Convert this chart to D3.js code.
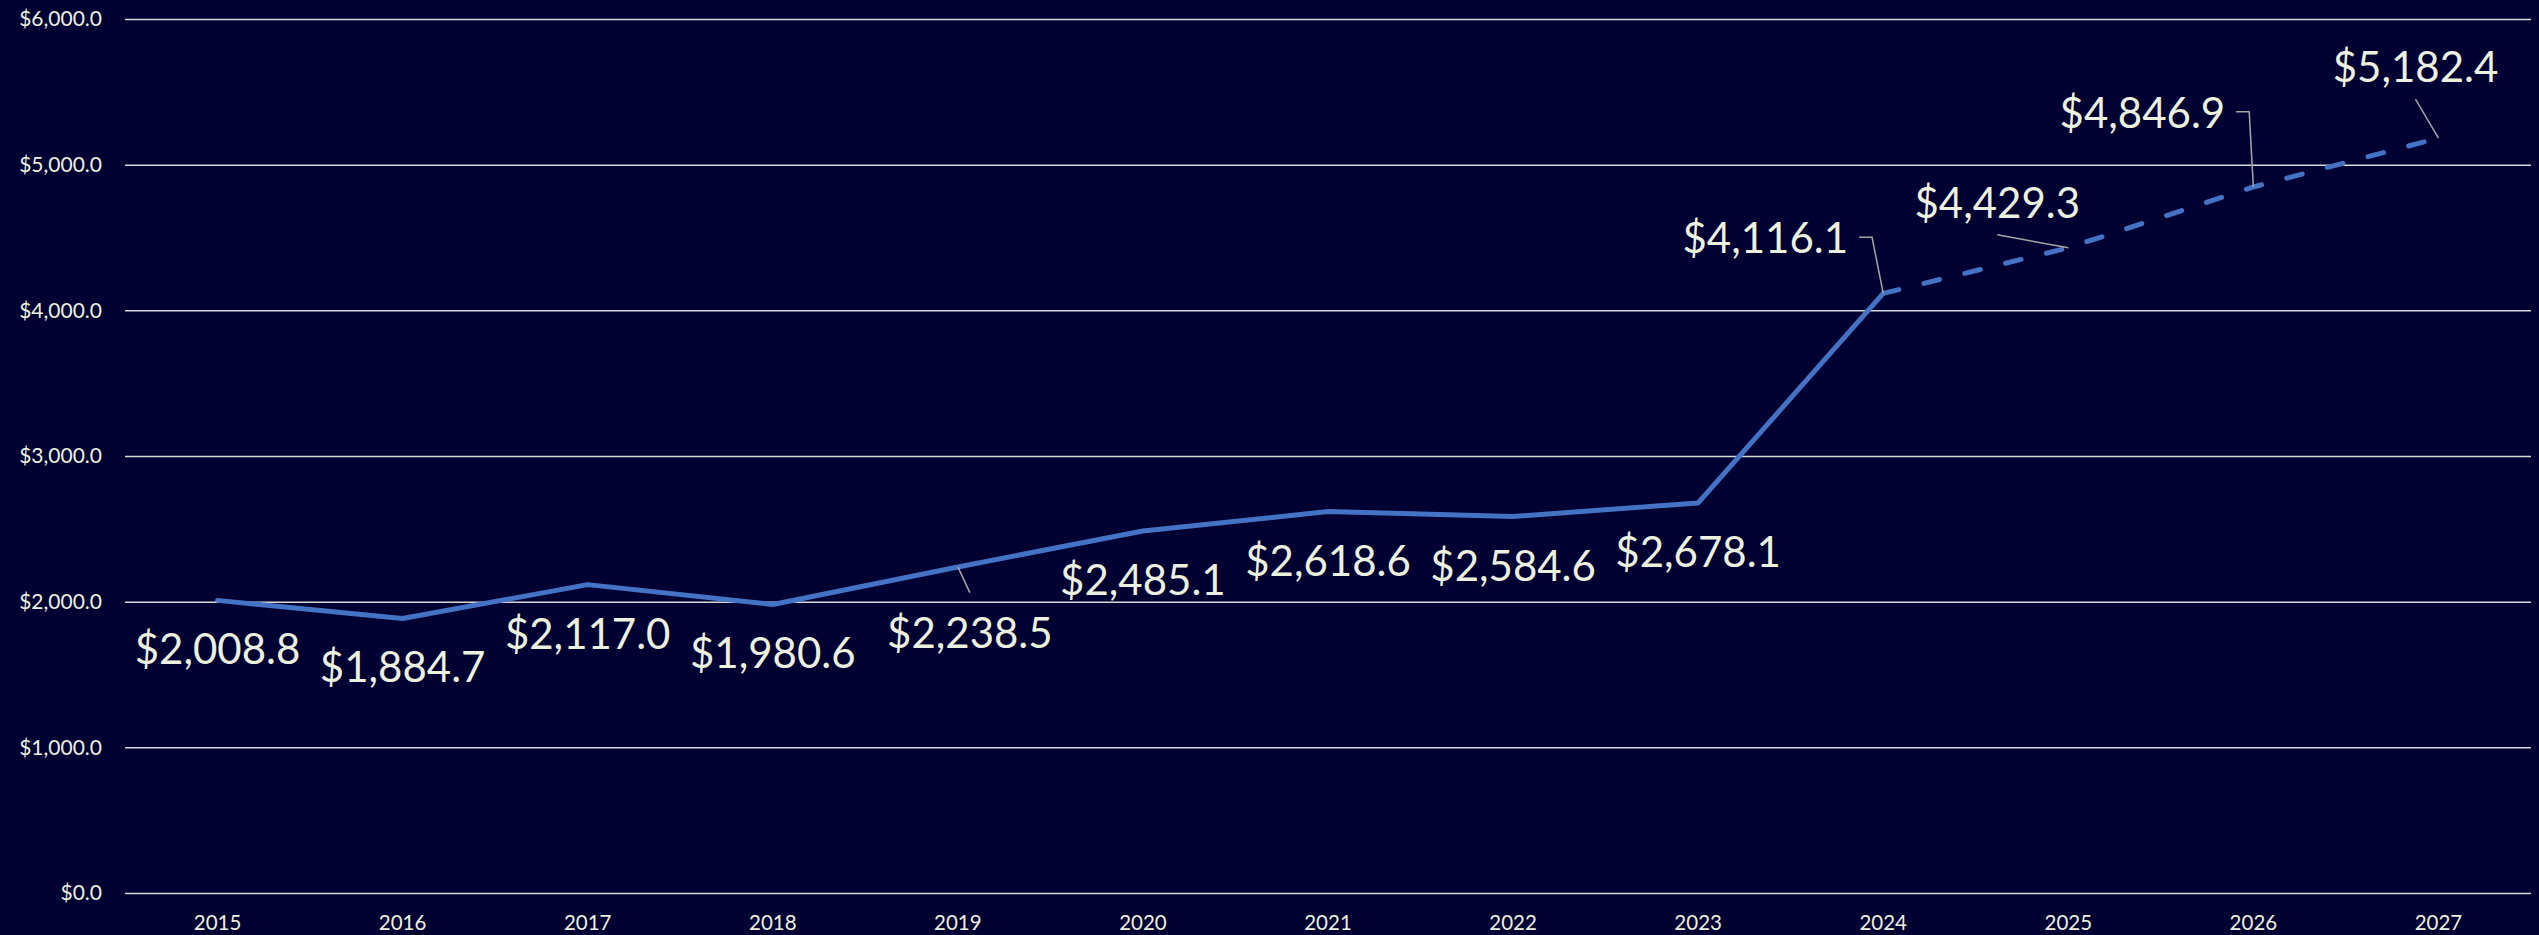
<!DOCTYPE html>
<html>
<head>
<meta charset="utf-8">
<script src="https://cdn.jsdelivr.net/npm/d3@7"></script>
<style>
  html, body { margin: 0; padding: 0; background: #000033; }
  svg { display: block; }
  text { font-family: Lato, "Open Sans", "Liberation Sans", sans-serif; }
</style>
</head>
<body>
<svg id="chart" width="2539" height="935"></svg>
<script>
// ---- data ----
const years = ["2015","2016","2017","2018","2019","2020","2021","2022","2023","2024","2025","2026","2027"];
const values = [2008.8, 1884.7, 2117.0, 1980.6, 2238.5, 2485.1, 2618.6, 2584.6, 2678.1, 4116.1, 4429.3, 4846.9, 5182.4];
const forecastFrom = "2024";
const yTicks = [0, 1000, 2000, 3000, 4000, 5000, 6000];

// ---- layout (label placement relative to each point: [dx, dy of baseline]) ----
const labelOffsets = [
  [0, 64], [0, 64], [0, 64], [0, 64], [12, 81], [0, 64], [0, 64], [0, 64], [0, 64],
  [-118, -40], [-71, -30], [-111, -59], [-23, -56]
];

const W = 2539, H = 935;
const mLeft = 125, mRight = 2531, mTop = 19, mBottom = 893;
const bg = "#000033", lineColor = "#4472C4", textColor = "#EBF1DE", gridColor = "#D9D9D9", leaderColor = "#A6A6A6";

const svg = d3.select("#chart");
svg.append("rect").attr("width", W).attr("height", H).attr("fill", bg);

const x = d3.scaleBand().domain(years).range([mLeft, mRight]);
const y = d3.scaleLinear().domain([0, 6000]).range([mBottom, mTop]);
const cx = d => x(d) + x.bandwidth() / 2;

// gridlines
const grid = svg.append("g").attr("transform", `translate(${mLeft},0)`)
  .call(d3.axisLeft(y).tickValues(yTicks).tickSize(-(mRight - mLeft)).tickFormat(""));
grid.select(".domain").remove();
grid.selectAll("line").attr("stroke", gridColor).attr("stroke-width", 1.5);

// y axis labels
const yAxis = svg.append("g").attr("transform", `translate(${mLeft},0)`)
  .call(d3.axisLeft(y).tickValues(yTicks).tickSize(0).tickPadding(23)
    .tickFormat(d => "$" + d3.format(",.1f")(d)));
yAxis.select(".domain").remove();
yAxis.selectAll("text").attr("fill", textColor).style("font-size", "21px")
  .style("font-family", "Lato, 'Open Sans', sans-serif");

// x axis labels
const xAxis = svg.append("g").attr("transform", `translate(0,${mBottom})`)
  .call(d3.axisBottom(x).tickSize(0).tickPadding(22));
xAxis.select(".domain").remove();
xAxis.selectAll("text").attr("fill", textColor).style("font-size", "20.5px")
  .style("font-family", "Lato, 'Open Sans', sans-serif");

// line data
const pts = years.map((yr, i) => ({ yr, v: values[i], i }));
const fIdx = years.indexOf(forecastFrom);
const actual = pts.slice(0, fIdx + 1);
const forecast = pts.slice(fIdx);
const line = d3.line().x(d => cx(d.yr)).y(d => y(d.v));

svg.append("path").datum(actual).attr("d", line)
  .attr("fill", "none").attr("stroke", lineColor).attr("stroke-width", 5)
  .attr("stroke-linejoin", "round").attr("stroke-linecap", "round");
svg.append("path").datum(forecast).attr("d", line)
  .attr("fill", "none").attr("stroke", lineColor).attr("stroke-width", 5)
  .attr("stroke-dasharray", "16,26").attr("stroke-linecap", "round")
  .attr("stroke-linejoin", "round");

// data labels
const fmt = d3.format("$,.1f");
const labelSize = 42;
const capH = labelSize * 0.72;
const lg = svg.append("g");
pts.forEach(p => {
  const px = cx(p.yr), py = y(p.v);
  const [dx, dy] = labelOffsets[p.i];
  const tx = px + dx, ty = py + dy;
  const t = lg.append("text").attr("x", tx).attr("y", ty)
    .attr("text-anchor", "middle").attr("fill", textColor)
    .style("font-size", labelSize + "px").text(fmt(p.v));
  const isDefault = dx === 0 && dy === 64;
  if (isDefault) return;
  const bb = t.node().getBBox();
  const x1 = bb.x, x2 = bb.x + bb.width;
  let path;
  if (py < ty - capH) {
    path = [[tx, ty - capH - 25], [px, py]];
  } else if (py > ty && px >= x1 && px <= x2 + 5) {
    path = [[tx, ty + 17], [px, py]];
  } else {
    const my = ty - capH / 2 - 1;
    path = [[x2 + 11, my], [x2 + 24, my], [px, py]];
  }
  lg.append("path").attr("d", d3.line()(path))
    .attr("fill", "none").attr("stroke", leaderColor).attr("stroke-width", 1.5);
});
lg.selectAll("text").raise();
</script>
</body>
</html>
